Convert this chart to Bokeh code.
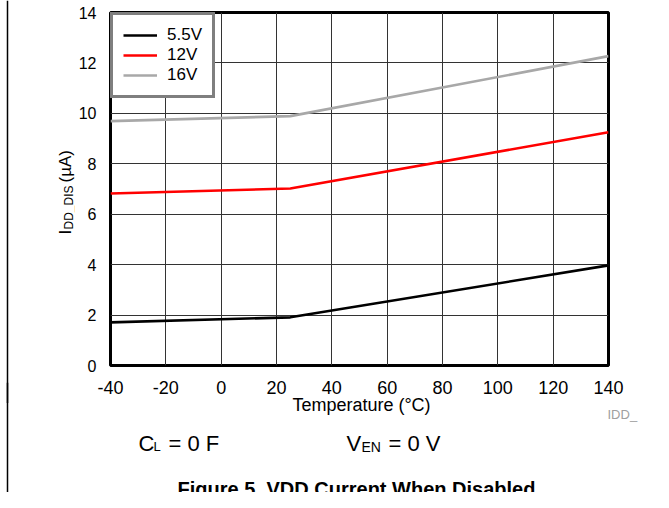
import math
from bokeh.plotting import figure
from bokeh.layouts import column, row
from bokeh.models import Range1d, FixedTicker, Span
from bokeh.core.properties import value
from bokeh.embed import file_html
from bokeh.resources import INLINE

# ---- data ----
temperature = [-40, 25, 140]
idd_5v5 = [1.71, 1.91, 3.97]
idd_12v = [6.82, 7.02, 9.25]
idd_16v = [9.69, 9.89, 12.27]
series_labels = ["5.5V", "12V", "16V"]
series_colors = ["black", "red", "#a8a8a8"]
x_ticks = [-40, -20, 0, 20, 40, 60, 80, 100, 120, 140]
y_ticks = [0, 2, 4, 6, 8, 10, 12, 14]

FONT = "Liberation Sans"
X0, X1, Y0, Y1 = -40, 140, 0, 14

LEFT_W = 75                 # width of the y-label strip
TOTAL_W, TOTAL_H = 661, 500
MAIN_W = TOTAL_W - LEFT_W
MB = 30                     # requested bottom border of the chart
MAIN_ACT = 411              # height the chart actually takes on the page
STRIP_TOP = 390             # where the (transparent) text strip begins
PULL = MAIN_ACT - STRIP_TOP
BOT_H = TOTAL_H - STRIP_TOP

# ---------------- main chart ----------------
p = figure(frame_width=498, frame_height=353,
           min_border_left=109 - LEFT_W, min_border_top=12,
           min_border_right=MAIN_W - (109 - LEFT_W) - 498, min_border_bottom=MB,
           x_range=Range1d(X0, X1), y_range=Range1d(Y0, Y1),
           output_backend="svg", toolbar_location=None)

p.outline_line_color = "black"
p.outline_line_width = 3
p.background_fill_color = "white"
p.border_fill_color = "white"

for ax in (p.xaxis, p.yaxis):
    ax.axis_line_color = None
    ax.major_tick_line_color = None
    ax.minor_tick_line_color = None
    ax.major_label_text_font = FONT
    ax.major_label_text_color = "black"

p.xaxis.ticker = FixedTicker(ticks=x_ticks)
p.yaxis.ticker = FixedTicker(ticks=y_ticks)
p.xaxis.major_label_overrides = {t: str(t) for t in x_ticks}
p.xaxis.major_label_text_font_size = "18px"
p.yaxis.major_label_text_font_size = "16px"
p.xaxis.major_label_standoff = 9
p.yaxis.major_label_standoff = 8

p.xgrid.ticker = FixedTicker(ticks=x_ticks)
p.ygrid.ticker = FixedTicker(ticks=y_ticks)
for g in (p.xgrid, p.ygrid):
    g.grid_line_color = "#333333"
    g.grid_line_width = 1

for vals, lab, col in zip([idd_5v5, idd_12v, idd_16v], series_labels, series_colors):
    p.line(temperature, vals, line_color=col, line_width=2.6, legend_label=lab)

lg = p.legend[0]
lg.location = "top_left"
lg.margin = 0
lg.padding = 10
lg.spacing = 0
lg.label_height = 20
lg.glyph_height = 20
lg.glyph_width = 34
lg.label_standoff = 10
lg.border_line_color = "black"
lg.border_line_width = 3
lg.background_fill_color = "white"
lg.background_fill_alpha = 1
lg.label_text_font = FONT
lg.label_text_font_size = "17px"
lg.label_text_color = "black"


# ---------------- text strips (pixel coordinates) ----------------
def strip(w, h, **kw):
    f = figure(width=w, height=h, x_range=Range1d(0, w), y_range=Range1d(0, h),
               min_border=0, output_backend="svg", toolbar_location=None,
               x_axis_location=None, y_axis_location=None, **kw)
    f.grid.visible = False
    f.outline_line_color = None
    f.background_fill_color = None
    f.border_fill_color = None
    f.add_layout(Span(location=7, dimension="height", line_color="black", line_width=1.5))
    return f


def put(f, h, y_off, txt, px, py, size, align="left", color="black",
        style="normal", angle=0.0):
    f.text(x=[px], y=[h - (py - y_off)], text=[txt], text_font=value(FONT),
           text_font_size=f"{size}px", text_color=color, text_align=align,
           text_baseline="alphabetic", text_font_style=style, angle=angle)


left = strip(LEFT_W, MAIN_ACT - 8)
LH = MAIN_ACT - 8
put(left, LH, 0, "I", 65, 234, 17, angle=math.pi / 2)
put(left, LH, 0, "DD_DIS", 68, 229, 12, angle=math.pi / 2)
put(left, LH, 0, " (µA)", 65, 182, 17, angle=math.pi / 2)

bottom = strip(TOTAL_W, BOT_H, margin=(-PULL, 0, 0, 0))
put(bottom, BOT_H, STRIP_TOP, "Temperature (°C)", 361, 412, 18, align="center")
put(bottom, BOT_H, STRIP_TOP, "IDD_", 607, 422, 13, color="#a0a0a0")
put(bottom, BOT_H, STRIP_TOP, "C", 138, 451, 22)
put(bottom, BOT_H, STRIP_TOP, "L", 153, 454, 13)
put(bottom, BOT_H, STRIP_TOP, "= 0 F", 168, 451, 22)
put(bottom, BOT_H, STRIP_TOP, "V", 346, 451, 22)
put(bottom, BOT_H, STRIP_TOP, "EN", 361, 454, 14)
put(bottom, BOT_H, STRIP_TOP, "= 0 V", 388, 451, 22)
put(bottom, BOT_H, STRIP_TOP, "Figure 5. VDD Current When Disabled", 356, 496, 20,
    align="center", style="bold")

layout = column(row(left, column(p, spacing=0), spacing=0), bottom, spacing=0)

open("out.html", "w").write(file_html(layout, INLINE))
